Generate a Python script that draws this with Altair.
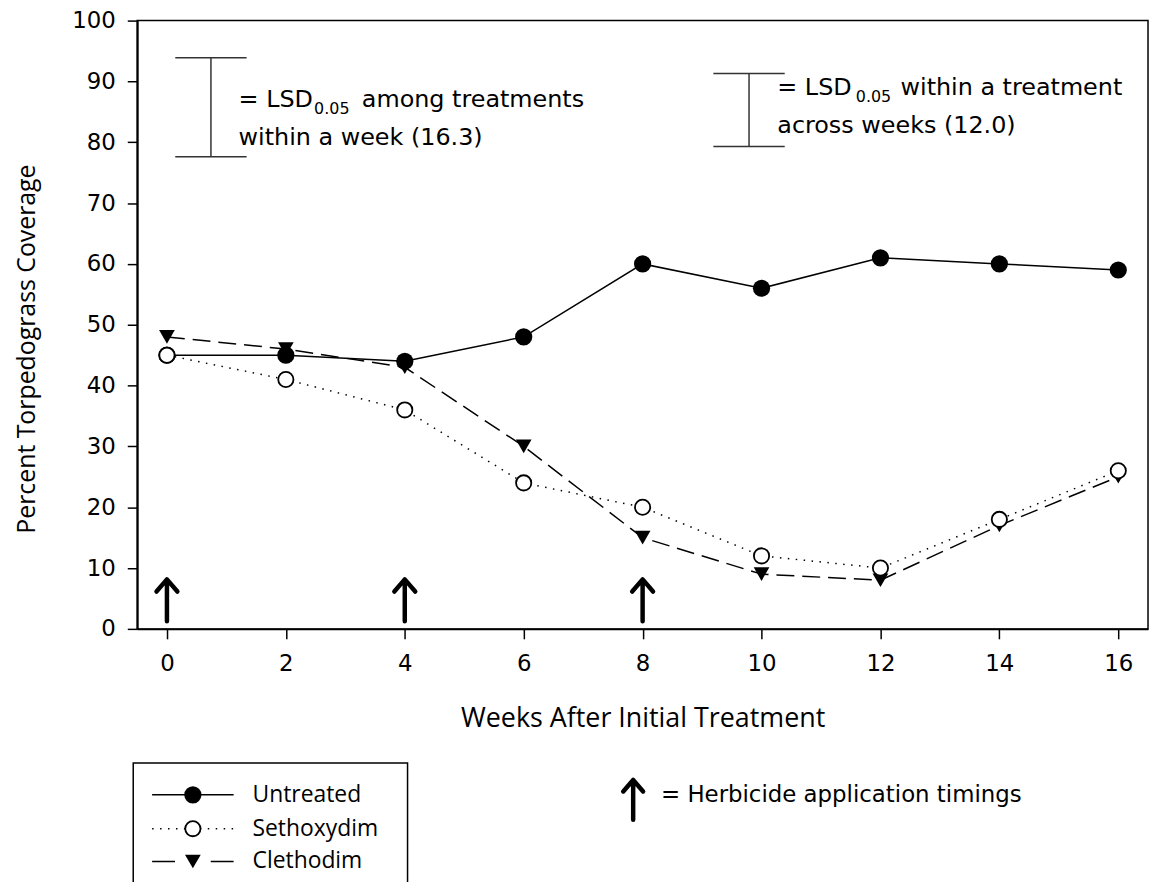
import altair as alt
import pandas as pd

# ---------------- data ----------------
weeks = [0, 2, 4, 6, 8, 10, 12, 14, 16]
untreated = [45, 45, 44, 48, 60, 56, 61, 60, 59]
sethoxydim = [45, 41, 36, 24, 20, 12, 10, 18, 26]
clethodim = [48, 46, 43, 30, 15, 9, 8, 17, 25]
app_weeks = [0, 4, 8]
lsd_among = 16.3
lsd_within = 12.0
x_ticks = [0, 2, 4, 6, 8, 10, 12, 14, 16]
y_ticks = [0, 10, 20, 30, 40, 50, 60, 70, 80, 90, 100]

# ---------------- layout helpers (page pixel -> plot pixel) ----------------
PL, PT = 138, 18
W, H = 1017, 612


def px(v):
    return v - PL


def py(v):
    return v - PT


one = pd.DataFrame({"d": [0]})

x_scale = alt.Scale(domain=[-0.5, 16.5], nice=False, zero=False)
y_scale = alt.Scale(domain=[0, 100], nice=False, zero=False)

X = alt.X(
    "week:Q",
    scale=x_scale,
    axis=alt.Axis(
        values=x_ticks,
        title="Weeks After Initial Treatment",
        titleFontSize=27,
        titleX=W / 2,
        titleY=90,
        titleAlign="center",
        titleBaseline="middle",
        labelPadding=14,
        labelFlush=False,
    ),
)
Y = alt.Y(
    "cov:Q",
    scale=y_scale,
    axis=alt.Axis(
        values=y_ticks,
        title="Percent Torpedograss Coverage",
        titleFontSize=25,
        titleAngle=270,
        titleX=-111,
        titleY=330,
        titleAlign="center",
        titleBaseline="middle",
        labelPadding=12,
        labelFlush=False,
    ),
)


def sdf(vals):
    return pd.DataFrame({"week": weeks, "cov": vals})


d_unt = sdf(untreated)
d_set = sdf(sethoxydim)
d_cle = sdf(clethodim)

LW = 1.5
DOT = [1.5, 6.5]
DASH = [18, 8]
ARROW = "M0,1L0,-1M-0.5,-0.42L0,-1L0.5,-0.42"

layers = []
# lines
layers.append(alt.Chart(d_unt).mark_line(color="black", strokeWidth=LW).encode(x=X, y=Y))
layers.append(alt.Chart(d_set).mark_line(color="black", strokeWidth=LW, strokeDash=DOT).encode(x=X, y=Y))
layers.append(alt.Chart(d_cle).mark_line(color="black", strokeWidth=LW, strokeDash=DASH).encode(x=X, y=Y))
# markers
layers.append(alt.Chart(d_cle).mark_point(shape="triangle-down", filled=True, color="black", size=250, opacity=1).encode(x=X, y=Y))
layers.append(alt.Chart(d_unt).mark_point(shape="circle", filled=True, color="black", size=300, opacity=1).encode(x=X, y=Y))
layers.append(alt.Chart(d_set).mark_point(shape="circle", fill="white", stroke="black", strokeWidth=1.8, size=235, opacity=1, fillOpacity=1).encode(x=X, y=Y))

# application arrows
d_arr = pd.DataFrame({"week": app_weeks, "cov": [4.7] * len(app_weeks)})
layers.append(alt.Chart(d_arr).mark_point(shape=ARROW, filled=False, stroke="black", strokeWidth=4.5, size=1764, strokeCap="round", strokeJoin="round", opacity=1).encode(x=X, y=Y))


# LSD bars (lengths are the LSD values)
def lsd_bar(xc, lo, length):
    hi = lo + length
    d_v = pd.DataFrame({"week": [xc], "cov": [lo], "cov2": [hi]})
    d_c = pd.DataFrame({"week": [xc - 0.6, xc - 0.6], "week2": [xc + 0.6, xc + 0.6], "cov": [lo, hi]})
    v = alt.Chart(d_v).mark_rule(color="#333", strokeWidth=1.5).encode(x=X, y=Y, y2="cov2:Q")
    c = alt.Chart(d_c).mark_rule(color="#333", strokeWidth=1.5).encode(x=X, x2="week2:Q", y=Y)
    return [v, c]


layers += lsd_bar(0.74, 77.6, lsd_among)
layers += lsd_bar(9.79, 79.3, lsd_within)


def txt(x, y, s, size=24, font="DejaVu Sans", baseline="alphabetic"):
    return alt.Chart(one).mark_text(
        align="left", baseline=baseline, font=font, fontSize=size, color="black"
    ).encode(x=alt.value(px(x)), y=alt.value(py(y)), text=alt.value(s))


# LSD annotation texts
layers.append(txt(240, 105, "= LSD"))
layers.append(txt(316, 112, "0.05", size=16))
layers.append(txt(364, 105, "among treatments"))
layers.append(txt(240, 143, "within a week (16.3)"))
layers.append(txt(782, 93, "= LSD"))
layers.append(txt(861, 100, "0.05", size=16))
layers.append(txt(906, 93, "within a treatment"))
layers.append(txt(782, 131, "across weeks (12.0)"))

# legend box
layers.append(
    alt.Chart(one).mark_rect(fillOpacity=0, stroke="black", strokeWidth=1.5).encode(
        x=alt.value(px(134)), x2=alt.value(px(410)), y=alt.value(py(765)), y2=alt.value(py(940))
    )
)


def leg_line(y, dash=None):
    kw = dict(color="black", strokeWidth=LW)
    if dash:
        kw["strokeDash"] = dash
    return alt.Chart(one).mark_rule(**kw).encode(
        x=alt.value(px(153)), x2=alt.value(px(235)), y=alt.value(py(y))
    )


def leg_sym(y, **kw):
    return alt.Chart(one).mark_point(opacity=1, **kw).encode(x=alt.value(px(194)), y=alt.value(py(y)))


rows = [797, 831, 864]
layers.append(leg_line(rows[0]))
layers.append(leg_sym(rows[0], shape="circle", filled=True, color="black", size=300))
layers.append(leg_line(rows[1], DOT))
layers.append(leg_sym(rows[1], shape="circle", fill="white", stroke="black", strokeWidth=1.8, size=235, fillOpacity=1))
layers.append(leg_line(rows[2], [23, 36]))
layers.append(leg_sym(rows[2], shape="triangle-down", filled=True, color="black", size=250))
for r, name in zip(rows, ["Untreated", "Sethoxydim", "Clethodim"]):
    layers.append(txt(254, r, name, size=23, font="Open Sans", baseline="middle"))

# herbicide timing legend
layers.append(
    alt.Chart(one).mark_point(shape=ARROW, filled=False, stroke="black", strokeWidth=4.5, size=1600, strokeCap="round", strokeJoin="round", opacity=1).encode(
        x=alt.value(px(637)), y=alt.value(py(802))
    )
)
layers.append(txt(665, 804, "= Herbicide application timings", size=23))

chart = (
    alt.layer(*layers)
    .properties(
        width=W,
        height=H,
        autosize=alt.AutoSizeParams(type="none"),
        padding={"left": 130, "top": 10, "right": 2, "bottom": 252},
    )
    .configure_view(stroke="black", strokeWidth=1.5)
    .configure_axis(
        grid=False,
        domainColor="black",
        domainWidth=2,
        tickColor="black",
        tickWidth=1.5,
        tickSize=10,
        labelColor="black",
        titleColor="black",
        labelFont="DejaVu Sans",
        labelFontSize=23,
        titleFont="Open Sans",
        titleFontWeight="normal",
    )
)

chart.save("out.html", embed_options={"renderer": "svg", "actions": False})
